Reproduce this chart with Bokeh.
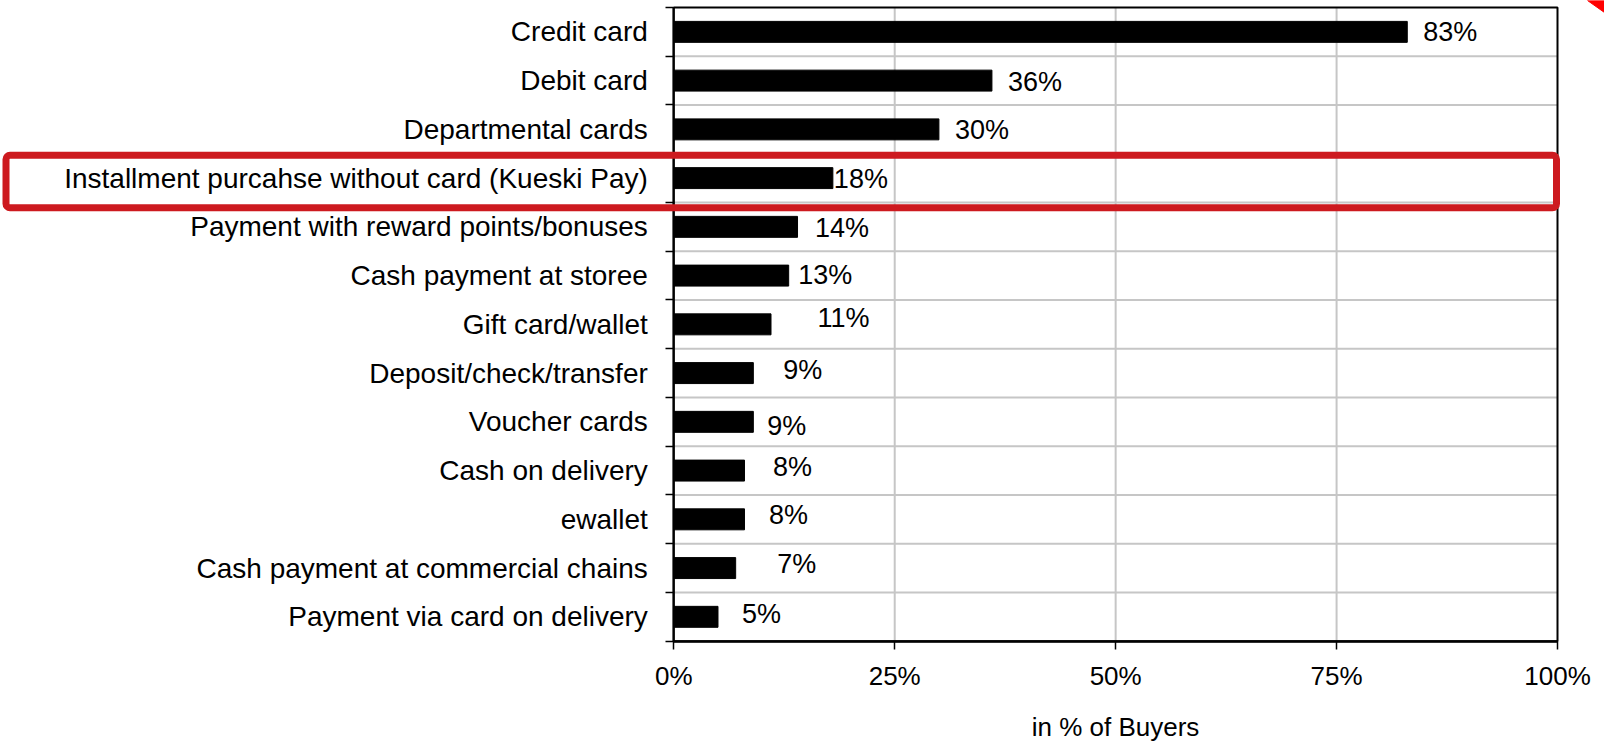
from bokeh.plotting import figure
from bokeh.models import (Range1d, LinearAxis, FixedTicker, PrintfTickFormatter,
                          BoxAnnotation, ColumnDataSource)
from bokeh.embed import file_html
from bokeh.resources import INLINE
from bokeh.core.properties import value

# ---------------- data ----------------
categories = [
    "Credit card",
    "Debit card",
    "Departmental cards",
    "Installment purcahse without card (Kueski Pay)",
    "Payment with reward points/bonuses",
    "Cash payment at storee",
    "Gift card/wallet",
    "Deposit/check/transfer",
    "Voucher cards",
    "Cash on delivery",
    "ewallet",
    "Cash payment at commercial chains",
    "Payment via card on delivery",
]
values = [83, 36, 30, 18, 14, 13, 11, 9, 9, 8, 8, 7, 5]
value_labels = ["83%", "36%", "30%", "18%", "14%", "13%", "11%", "9%", "9%", "8%", "8%", "7%", "5%"]
x_ticks = [0, 25, 50, 75, 100]
x_title = "in % of Buyers"
highlight = "Installment purcahse without card (Kueski Pay)"

# label placement quirks of the original (pixels from bar end / row centre)
label_dx = [16, 16, 16, 1, 17.5, 9.5, 46.5, 30, 14, 28.5, 24.5, 41.5, 24]
label_dy = [0, 1, 1, 1, 1, -1, -6, -3, 4, -4, -4, -4, -3]

# ---------------- layout ----------------
W, H = 1604, 742
X0, X100 = 673.3, 1557.0      # pixel of 0% and 100%
YTOP, YBOT = 7.0, 640.7        # pixel of top / bottom of plot area
n = len(categories)
pxu = (X100 - X0) / 100.0
pyu = (YBOT - YTOP) / n


def px2x(px):
    return (px - X0) / pxu


def py2y(py):
    return (YBOT - py) / pyu


FONT = "Liberation Sans"

p = figure(width=W, height=H,
           x_range=Range1d(px2x(0), px2x(W)),
           y_range=Range1d(py2y(H), py2y(0)),
           output_backend="svg", toolbar_location=None,
           x_axis_location=None, y_axis_location=None,
           min_border=0, title=None)
p.outline_line_color = None
p.background_fill_color = "white"
p.border_fill_color = "white"
for g in p.grid:
    g.visible = False

ypos = [n - i - 0.5 for i in range(n)]
bounds_y = list(range(n + 1))

# grid lines
grid_color = "#c6c6c6"
vx = [t for t in x_ticks if 0 < t < 100]
p.segment(x0=vx, y0=[0] * len(vx), x1=vx, y1=[n] * len(vx),
          line_color=grid_color, line_width=2)
hy = bounds_y[1:-1]
p.segment(x0=[0] * len(hy), y0=hy, x1=[100] * len(hy), y1=hy,
          line_color=grid_color, line_width=2)

# bars
p.hbar(y=ypos, left=0, right=values, height=0.43,
       fill_color="black", line_color="black", line_width=1)

# frame box
p.quad(left=[0], right=[100], bottom=[0], top=[n],
       fill_color=None, line_color="black", line_width=2)

# value labels
src = ColumnDataSource(dict(x=values, y=ypos, text=value_labels,
                            dx=label_dx, dy=label_dy))
p.text(x="x", y="y", text="text", x_offset="dx", y_offset="dy", source=src,
       text_font=value(FONT), text_font_size="27px", text_color="black",
       text_align="left", text_baseline="middle")

# y axis (category labels)
yaxis = LinearAxis(
    ticker=FixedTicker(ticks=ypos, minor_ticks=bounds_y),
    major_label_overrides={y: c for y, c in zip(ypos, categories)},
    fixed_location=0, bounds=(0, n),
    axis_line_color="black", axis_line_width=2,
    major_tick_in=0, major_tick_out=0,
    minor_tick_in=0, minor_tick_out=8,
    minor_tick_line_color="black", minor_tick_line_width=1.5,
    major_label_standoff=18,
    major_label_text_font=FONT, major_label_text_font_size="28px",
    major_label_text_color="black",
)
p.add_layout(yaxis, "left")

# x axis
xaxis = LinearAxis(
    ticker=FixedTicker(ticks=x_ticks, minor_ticks=[]),
    formatter=PrintfTickFormatter(format="%d%%"),
    fixed_location=0, bounds=(0, 100),
    axis_line_color="black", axis_line_width=2.5,
    major_tick_in=0, major_tick_out=8,
    major_tick_line_color="black", major_tick_line_width=1.5,
    minor_tick_in=0, minor_tick_out=0,
    major_label_standoff=12,
    major_label_text_font=FONT, major_label_text_font_size="26px",
    major_label_text_color="black",
    axis_label=x_title, axis_label_standoff=17,
    axis_label_text_font=FONT, axis_label_text_font_size="26px",
    axis_label_text_font_style="normal", axis_label_text_color="black",
)
p.add_layout(xaxis, "below")

# red highlight box around the Kueski Pay row
hi = categories.index(highlight)
row_top_px = YTOP + hi * pyu
box = BoxAnnotation(left=px2x(5.5), right=px2x(1556.0),
                    top=py2y(row_top_px + 1.5), bottom=py2y(row_top_px + pyu + 5.2),
                    fill_color=None, fill_alpha=0,
                    line_color="#CD1A1F", line_alpha=1.0, line_width=7,
                    border_radius=4, level="overlay")
p.add_layout(box)

# red corner mark (top right)
p.patch(x=[px2x(1587), px2x(W), px2x(W)], y=[py2y(0), py2y(0), py2y(12)],
        fill_color="#ff0000", line_color="#ff0000")

open("out.html", "w").write(file_html(p, INLINE))
